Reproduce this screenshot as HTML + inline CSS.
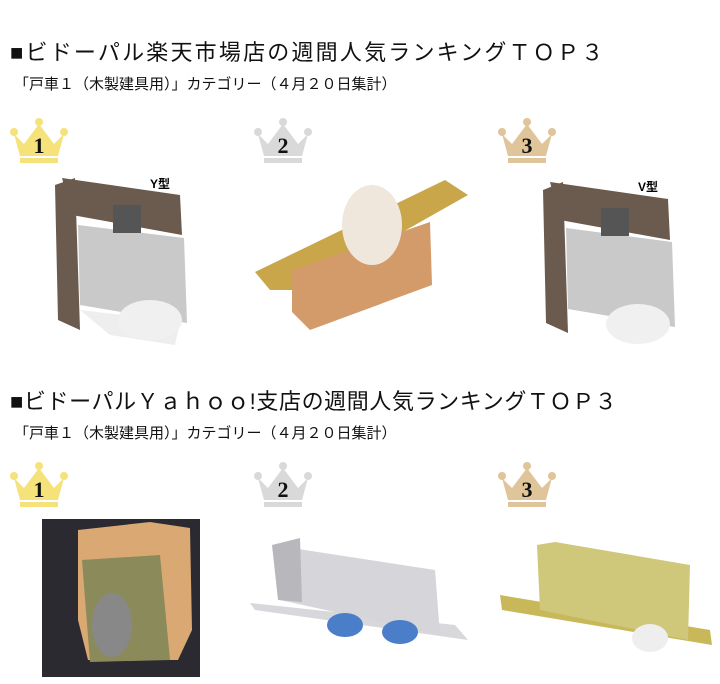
<!DOCTYPE html>
<html><head><meta charset="utf-8"><style>
body{margin:0;width:720px;height:684px;background:#fff;position:relative;overflow:hidden;font-family:"Liberation Sans","Noto Sans CJK JP",sans-serif;color:#111}
.t{position:absolute;left:10px;font-size:22px;white-space:nowrap}
.s{position:absolute;left:14px;font-size:15px;white-space:nowrap}
svg{position:absolute;left:0;top:0}
</style></head><body>
<div class="t" style="top:35px;letter-spacing:2.2px">■ビドーパル楽天市場店の週間人気ランキングＴＯＰ３</div>
<div class="s" style="top:73px">「戸車１（木製建具用）」カテゴリー（４月２０日集計）</div>
<div class="t" style="top:384px;letter-spacing:0.6px">■ビドーパルＹａｈｏｏ!支店の週間人気ランキングＴＯＰ３</div>
<div class="s" style="top:422px">「戸車１（木製建具用）」カテゴリー（４月２０日集計）</div>
<svg width="720" height="684">
<defs>
<g id="cr">
<circle cx="29" cy="4" r="4"/><circle cx="4" cy="14" r="4"/><circle cx="54" cy="14" r="4"/>
<path d="M4 16 L14 26 L29 6 L44 26 L54 16 L48 38 L10 38 Z"/>
<rect x="10" y="40" width="38" height="5"/>
</g>
</defs>
<g fill="#f5e27a"><use href="#cr" x="10" y="118"/><use href="#cr" x="10" y="462"/></g>
<g fill="#d9d9d9"><use href="#cr" x="254" y="118"/><use href="#cr" x="254" y="462"/></g>
<g fill="#e0c49a"><use href="#cr" x="498" y="118"/><use href="#cr" x="498" y="462"/></g>
<g font-family="Liberation Serif,serif" font-weight="bold" font-size="22" text-anchor="middle" fill="#111">
<text x="39" y="153">1</text><text x="283" y="153">2</text><text x="527" y="153">3</text>
<text x="39" y="497">1</text><text x="283" y="497">2</text><text x="527" y="497">3</text>
</g>
<text x="150" y="188" font-size="12" font-weight="bold">Y型</text>
<text x="638" y="191" font-size="12" font-weight="bold">V型</text>
<!-- product 1 -->
<path d="M62 178 L180 195 L182 235 L72 215 Z" fill="#6b5b4f"/>
<path d="M55 185 L75 178 L80 330 L58 320 Z" fill="#6b5b4f"/>
<path d="M78 225 L184 238 L187 323 L80 305 Z" fill="#c9c9c9"/>
<path d="M80 310 L180 322 L175 345 L110 335 Z" fill="#eee"/>
<ellipse cx="150" cy="320" rx="32" ry="20" fill="#f0f0f0"/>
<rect x="113" y="205" width="28" height="28" fill="#555"/>
<!-- product 3 -->
<path d="M550 182 L668 199 L670 240 L560 220 Z" fill="#6b5b4f"/>
<path d="M543 190 L563 182 L568 333 L546 323 Z" fill="#6b5b4f"/>
<path d="M566 228 L672 242 L675 327 L568 309 Z" fill="#c9c9c9"/>
<ellipse cx="638" cy="324" rx="32" ry="20" fill="#f0f0f0"/>
<rect x="601" y="208" width="28" height="28" fill="#555"/>
<!-- product 2 -->
<path d="M255 272 L445 180 L468 195 L300 290 L270 290 Z" fill="#c9a64a"/>
<path d="M292 270 L430 222 L432 285 L310 330 L292 312 Z" fill="#d39a6a"/>
<ellipse cx="372" cy="225" rx="30" ry="40" fill="#efe6dc"/>
<!-- row2 product 1 -->
<rect x="42" y="519" width="158" height="158" fill="#2a2a30"/>
<path d="M78 530 L150 522 L190 528 L192 630 L178 660 L88 660 L78 620 Z" fill="#d9a873"/>
<path d="M82 560 L160 555 L170 660 L90 662 Z" fill="#8b8a5a"/>
<ellipse cx="112" cy="625" rx="20" ry="32" fill="#888"/>
<!-- row2 product 2 -->
<path d="M250 603 L455 625 L468 640 L255 610 Z" fill="#d8d8dc"/>
<path d="M272 545 L435 570 L440 635 L280 600 Z" fill="#d5d5da"/>
<path d="M272 545 L300 538 L302 602 L278 600 Z" fill="#b8b8bc"/>
<ellipse cx="345" cy="625" rx="18" ry="12" fill="#4a7ec8"/>
<ellipse cx="400" cy="632" rx="18" ry="12" fill="#4a7ec8"/>
<!-- row2 product 3 -->
<path d="M500 595 L710 630 L712 645 L502 610 Z" fill="#c8b85a"/>
<path d="M537 545 L555 542 L690 565 L688 640 L540 610 Z" fill="#cfc77a"/>
<ellipse cx="650" cy="638" rx="18" ry="14" fill="#eee"/>
</svg>
</body></html>
